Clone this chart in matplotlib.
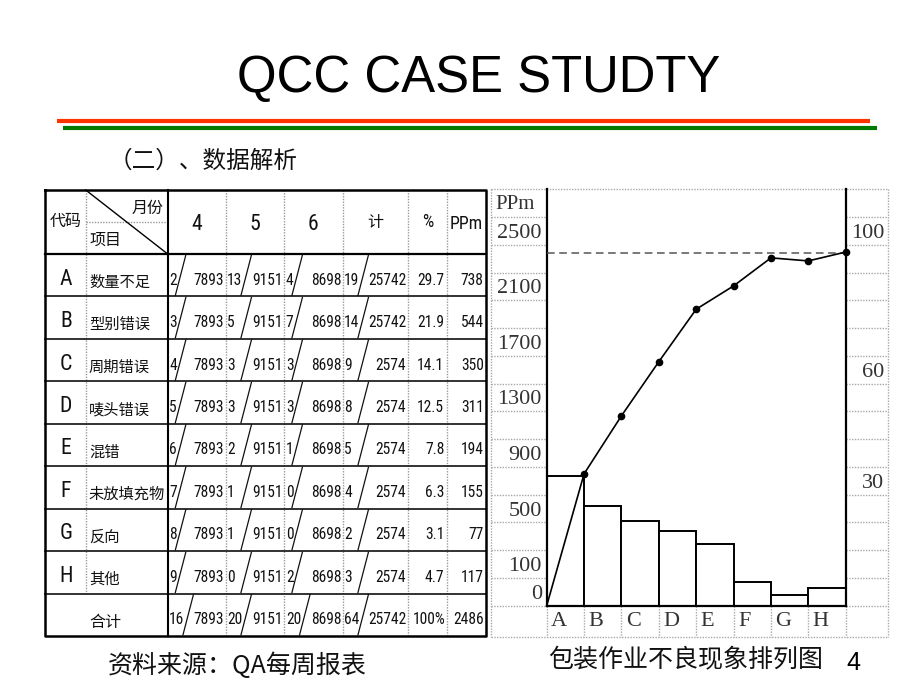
import os
import glob
import numpy as np
import matplotlib
matplotlib.use("Agg")
import matplotlib.pyplot as plt
from matplotlib.font_manager import FontProperties, fontManager, findfont

# ---------------- data ----------------
codes = ["A", "B", "C", "D", "E", "F", "G", "H"]
items = ["数量不足", "型别错误", "周期错误", "唛头错误", "混错", "未放填充物", "反向", "其他"]
months = ["4", "5", "6"]
m4_defects = [2, 3, 4, 5, 6, 7, 8, 9]
m5_defects = [13, 5, 3, 3, 2, 1, 1, 0]
m6_defects = [4, 7, 3, 3, 1, 0, 0, 2]
sum_defects = [19, 14, 9, 8, 5, 4, 2, 3]
m4_qty, m5_qty, m6_qty = 7893, 9151, 8698
sum_qty = [25742, 25742, 2574, 2574, 2574, 2574, 2574, 2574]
total_defects = [16, 20, 20, 64]
total_qty = [7893, 9151, 8698, 25742]
pct_labels = ["29.7", "21.9", "14.1", "12.5", "7.8", "6.3", "3.1", "4.7"]
pct_total = "100%"
ppm_values = [738, 544, 350, 311, 194, 155, 77, 117]
ppm_total = 2486

# chart (as drawn, in grid-row units of the chart)
bar_heights = [4.68, 3.59, 3.06, 2.69, 2.22, 0.84, 0.37, 0.64]
cum_line = [0, 4.75, 6.84, 8.79, 10.68, 11.52, 12.53, 12.42, 12.74]
ref_line = 12.72
left_tick_rows = [0.5, 1.5, 3.5, 5.5, 7.5, 9.5, 11.5, 13.5]
left_tick_labels = ["0", "100", "500", "900", "1300", "1700", "2100", "2500"]
right_tick_rows = [4.5, 8.5, 13.5]
right_tick_labels = ["30", "60", "100"]

# ---------------- figure ----------------
W, H = 920, 690
fig = plt.figure(figsize=(9.2, 6.9), dpi=100)
bg = fig.add_axes([0, 0, 1, 1])
bg.set_xlim(0, W)
bg.set_ylim(H, 0)
bg.axis("off")
renderer = fig.canvas.get_renderer()

CJK = ["Noto Sans CJK SC", "DejaVu Sans"]
SERIF = "Liberation Serif"


def pick_narrow():
    prefs = ["LiberationSansNarrow-Regular.ttf", "RobotoCondensed-Regular.ttf",
             "NotoSans-Condensed.ttf", "NotoSans-SemiCondensed.ttf",
             "DejaVuSansCondensed.ttf"]
    files = [f.fname for f in fontManager.ttflist]
    files += glob.glob("/usr/share/fonts/**/*.ttf", recursive=True)
    base = {os.path.basename(p): p for p in files}
    for p in prefs:
        if p in base:
            return base[p]
    return findfont(FontProperties(family="Liberation Sans"))


narrow_path = pick_narrow()


def text_w(s, fp):
    t = bg.text(0, 0, s, fontproperties=fp)
    w = t.get_window_extent(renderer).width
    t.remove()
    return w


num_size = 10 * 30.5 / text_w("7893", FontProperties(fname=narrow_path, size=10))
num_size = min(num_size, 13)
numfp = FontProperties(fname=narrow_path, size=num_size)
bigfp = FontProperties(fname=narrow_path, size=num_size * 1.4)
midfp = FontProperties(fname=narrow_path, size=num_size * 1.15)
digit_w = text_w("7893", numfp) / 4.0

# ---------------- title & header decorations ----------------
bg.text(479, 92.3, "QCC CASE STUDTY", ha="center", va="baseline",
        fontsize=36.6, family="Liberation Sans", color="black")
bg.plot([57.3, 870], [120.7, 120.7], color="#FF3300", lw=3, solid_capstyle="butt")
bg.plot([62.7, 876.7], [127.7, 127.7], color="#007A00", lw=3, solid_capstyle="butt")
bg.text(109, 161.5, "（二）、数据解析", ha="left", va="center", fontsize=17,
        family=CJK, color="#111")

# ---------------- table ----------------
col_x = [45, 85.7, 167.7, 225.7, 284.3, 342.7, 407.7, 447.3, 485.7]
row_y = [190, 254] + [254 + 42.44 * (i + 1) for i in range(9)]
top, bot = row_y[0], row_y[-1]
GRAY = "#999999"
DOT = (0, (1, 1))

# inner gray verticals
bg.plot([col_x[1]] * 2, [top, row_y[-2]], color=GRAY, lw=1, ls=DOT)
for cx in col_x[3:8]:
    bg.plot([cx, cx], [top, bot], color=GRAY, lw=1, ls=DOT)
bg.plot([col_x[1], col_x[2]], [221.7, 221.7], color=GRAY, lw=1, ls=DOT)
# row lines
for ry in row_y[2:-1]:
    bg.plot([col_x[0], col_x[-1]], [ry, ry], color="#222", lw=1.3)
bg.plot([col_x[0], col_x[-1]], [row_y[1], row_y[1]], color="black", lw=1.6)
bg.plot([col_x[2]] * 2, [top, bot], color="black", lw=1.5)
bg.plot([col_x[1], col_x[2]], [top, row_y[1]], color="black", lw=1)
bg.plot([col_x[0], col_x[-1], col_x[-1], col_x[0], col_x[0]],
        [top, top, bot, bot, top], color="black", lw=1.8)

TXT = "#111"
CJK_SIZE = 11
# header
bg.text(66, 221, "代码", ha="center", va="center", fontsize=11.5, family=CJK, color=TXT)
bg.text(164, 208, "月份", ha="right", va="center", fontsize=11.5, family=CJK, color=TXT)
bg.text(90, 240, "项目", ha="left", va="center", fontsize=11.5, family=CJK, color=TXT)
for j, m in enumerate(months):
    cxm = (col_x[2 + j] + col_x[3 + j]) / 2
    bg.text(cxm, 224, m, ha="center", va="center", fontproperties=bigfp, color=TXT)
bg.text((col_x[5] + col_x[6]) / 2, 222.5, "计", ha="center", va="center",
        fontsize=11.5, family=CJK, color=TXT)
bg.text((col_x[6] + col_x[7]) / 2, 222, "%", ha="center", va="center",
        fontproperties=midfp, color=TXT)
bg.text((col_x[7] + col_x[8]) / 2, 224, "PPm", ha="center", va="center",
        fontproperties=midfp, color=TXT)


def ratio_cell(ci, r_top, r_bot, num, den, field):
    x0, x1 = col_x[ci], col_x[ci + 1]
    yc = (r_top + r_bot) / 2 + 5
    bg.text(x0 + 1.5, yc, str(num), ha="left", va="center", fontproperties=numfp, color=TXT)
    bg.text(x1 - 1.5, yc, str(den), ha="right", va="center", fontproperties=numfp, color=TXT)
    sx = x0 + 1.5 + field * digit_w - 1.5
    bg.plot([sx, sx + 10.5], [r_bot - 1, r_top + 1], color="#111", lw=0.9)


for i in range(8):
    rt, rb = row_y[i + 1], row_y[i + 2]
    yc = (rt + rb) / 2
    bg.text(66, yc + 4, codes[i], ha="center", va="center", fontproperties=bigfp, color=TXT)
    bg.text(89, yc + 7, items[i], ha="left", va="center", fontsize=CJK_SIZE, family=CJK, color=TXT)
    ratio_cell(2, rt, rb, m4_defects[i], m4_qty, len(str(m4_defects[i])))
    ratio_cell(3, rt, rb, m5_defects[i], m5_qty, 2)
    ratio_cell(4, rt, rb, m6_defects[i], m6_qty, len(str(m6_defects[i])))
    ratio_cell(5, rt, rb, sum_defects[i], sum_qty[i], 2)
    bg.text(col_x[7] - 3, yc + 5, pct_labels[i], ha="right", va="center",
            fontproperties=numfp, color=TXT)
    bg.text(col_x[8] - 2, yc + 5, str(ppm_values[i]), ha="right", va="center",
            fontproperties=numfp, color=TXT)

rt, rb = row_y[9], row_y[10]
yc = (rt + rb) / 2
bg.text(105, yc + 8, "合计", ha="center", va="center", fontsize=11.5, family=CJK, color=TXT)
for j in range(4):
    ratio_cell(2 + j, rt, rb, total_defects[j], total_qty[j], len(str(total_defects[j])))
bg.text(col_x[7] - 1.5, yc + 5, pct_total, ha="right", va="center", fontproperties=numfp, color=TXT)
bg.text(col_x[8] - 2, yc + 5, str(ppm_total), ha="right", va="center", fontproperties=numfp, color=TXT)

# ---------------- chart frame (pixel layout) ----------------
PX_L, PX_R = 546.7, 845.7      # plot area left/right
PX_T, PX_B = 189.3, 605.7      # plot area top/baseline
FR_L, FR_R, FR_B = 490.7, 888, 636.7
n_rows = 15
row_h = (PX_B - PX_T) / n_rows
CG = "#a8a8a8"
for k in range(0, n_rows):
    yk = PX_B - k * row_h
    bg.plot([FR_L, PX_L], [yk, yk], color=CG, lw=1, ls=DOT)
    bg.plot([PX_R, FR_R], [yk, yk], color=CG, lw=1, ls=DOT)
bg.plot([FR_L, FR_R], [PX_T, PX_T], color=CG, lw=1, ls=DOT)
bg.plot([FR_L, FR_R], [FR_B, FR_B], color=CG, lw=1, ls=DOT)
bg.plot([FR_L, FR_L], [PX_T, FR_B], color=CG, lw=1, ls=DOT)
bg.plot([FR_R, FR_R], [PX_T, FR_B], color=CG, lw=1, ls=DOT)
bar_w_px = (PX_R - PX_L) / len(codes)
for i in range(len(codes) + 1):
    xe = PX_L + i * bar_w_px
    bg.plot([xe, xe], [PX_B, FR_B], color=CG, lw=1, ls=DOT)
bg.text(495, PX_T + row_h / 2 + 1, "PPm", ha="left", va="center", family=SERIF,
        fontsize=15, color="#333")

# ---------------- pareto chart ----------------
ax = fig.add_axes([PX_L / W, (H - PX_B) / H, (PX_R - PX_L) / W, (PX_B - PX_T) / H])
ax.set_facecolor("none")
ax.set_xlim(0, len(codes))
ax.set_ylim(0, n_rows)
x = np.arange(len(codes))
ax.bar(x, bar_heights, width=1.0, align="edge", facecolor="white",
       edgecolor="black", linewidth=1.4, zorder=2)
ax.axhline(ref_line, color="#555", lw=1.1, ls=(0, (5, 3)), zorder=3)
xl = np.arange(len(cum_line))
ax.plot(xl, cum_line, color="black", lw=1.2, zorder=4, clip_on=False)
ax.plot(xl[1:], cum_line[1:], "o", color="black", ms=4.5, zorder=5, clip_on=False)
for s in ["left", "right", "bottom"]:
    ax.spines[s].set_color("black")
    ax.spines[s].set_linewidth(1.6)
ax.spines["top"].set_visible(False)
ax.set_xticks([])
ax.set_yticks(left_tick_rows, left_tick_labels)
ax.tick_params(axis="y", length=0, pad=3.4, labelsize=16, labelcolor="#333")
for lb in ax.get_yticklabels():
    lb.set_fontfamily(SERIF)
for i, c in enumerate(codes):
    ax.text(i + 0.12, -0.57, c, ha="left", va="center", family=SERIF, fontsize=16,
            color="#333", clip_on=False)

ax2 = ax.twinx()
ax2.set_ylim(0, n_rows)
for s in ax2.spines.values():
    s.set_visible(False)
ax2.set_yticks(right_tick_rows, right_tick_labels)
ax2.tick_params(axis="y", length=0, pad=27.6, labelsize=16, labelcolor="#333")
for lb in ax2.get_yticklabels():
    lb.set_fontfamily(SERIF)
    lb.set_horizontalalignment("right")

# ---------------- bottom captions ----------------
bg.text(108, 666, "资料来源：QA每周报表", ha="left", va="center", fontsize=18,
        family=CJK, color="#111")
bg.text(548, 660, "包装作业不良现象排列图", ha="left", va="center", fontsize=18,
        family=CJK, color="#111")
bg.text(853, 663, "4", ha="center", va="center", fontsize=18, family="Liberation Sans",
        color="black")

fig.savefig("out.png", dpi=100)
